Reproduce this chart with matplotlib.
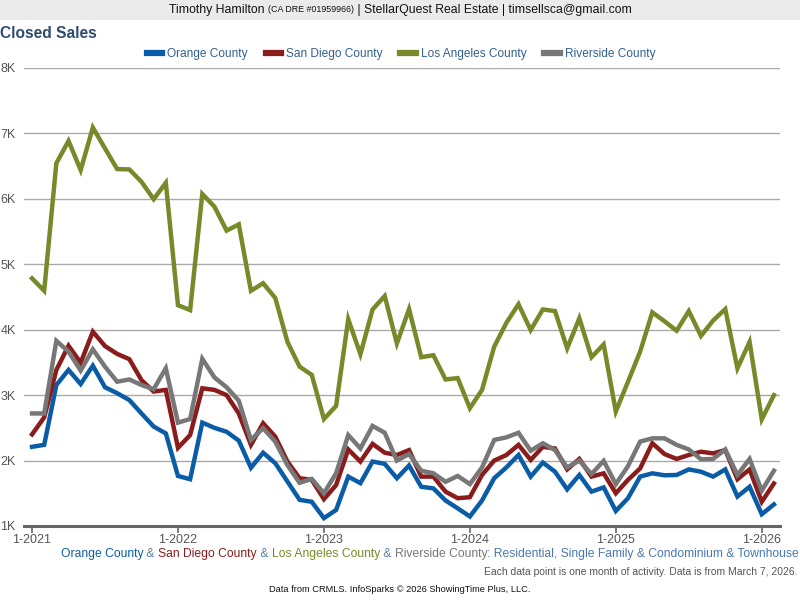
import matplotlib
matplotlib.use("Agg")
import matplotlib.pyplot as plt
from matplotlib.patches import Rectangle

plt.rcParams["font.family"] = ["Liberation Sans", "DejaVu Sans"]

# Monthly closed sales, Jan 2021 - Feb 2026
orange = [2210, 2240, 3155, 3385, 3170, 3450, 3120, 3030, 2925, 2720, 2520, 2415,
          1765, 1715, 2580, 2500, 2440, 2305, 1890, 2120, 1960, 1680, 1400, 1370,
          1120, 1245, 1755, 1655, 1985, 1950, 1730, 1925, 1600, 1575, 1390, 1270,
          1145, 1390, 1730, 1895, 2085, 1755, 1970, 1830, 1560, 1780, 1525, 1590,
          1230, 1425, 1755, 1805, 1775, 1780, 1865, 1830, 1755, 1865, 1450, 1600,
          1180, 1330]
san_diego = [2400, 2660, 3385, 3755, 3495, 3970, 3750, 3630, 3550, 3230, 3055, 3080,
             2195, 2390, 3105, 3080, 3000, 2720, 2240, 2570, 2365, 1985, 1730, 1705,
             1410, 1625, 2170, 1985, 2255, 2120, 2085, 2160, 1755, 1755, 1525, 1425,
             1440, 1780, 2000, 2085, 2240, 2010, 2210, 2185, 1865, 2025, 1755, 1805,
             1500, 1705, 1880, 2265, 2100, 2025, 2085, 2135, 2110, 2160, 1715, 1865,
             1370, 1650]
los_angeles = [4785, 4595, 6545, 6885, 6440, 7090, 6770, 6455, 6450, 6260, 5995, 6245,
               4375, 4300, 6075, 5880, 5515, 5610, 4595, 4710, 4485, 3815, 3435, 3310,
               2635, 2835, 4160, 3625, 4310, 4515, 3790, 4315, 3580, 3610, 3240, 3260,
               2800, 3080, 3740, 4105, 4390, 3995, 4310, 4285, 3715, 4175, 3580, 3775,
               2750, 3205, 3665, 4265, 4130, 3985, 4285, 3905, 4140, 4315, 3410, 3815,
               2630, 3000]
riverside = [2720, 2720, 3830, 3665, 3375, 3700, 3435, 3205, 3240, 3155, 3090, 3410,
             2580, 2635, 3555, 3270, 3120, 2915, 2315, 2495, 2290, 1930, 1660, 1720,
             1500, 1805, 2390, 2185, 2530, 2425, 2000, 2100, 1845, 1805, 1675, 1765,
             1640, 1895, 2315, 2355, 2425, 2150, 2265, 2160, 1895, 2000, 1795, 1995,
             1640, 1915, 2290, 2340, 2340, 2240, 2170, 2020, 2025, 2170, 1780, 2025,
             1540, 1845]

series_names = ["Orange County", "San Diego County", "Los Angeles County", "Riverside County"]
series_colors = ["#0b5ca6", "#8a1c1c", "#778a2a", "#777777"]
x_tick_labels = ["1-2021", "1-2022", "1-2023", "1-2024", "1-2025", "1-2026"]
y_ticks = [1000, 2000, 3000, 4000, 5000, 6000, 7000, 8000]
y_tick_labels = ["1K", "2K", "3K", "4K", "5K", "6K", "7K", "8K"]

fig = plt.figure(figsize=(8, 6), dpi=100)
ax = fig.add_axes([0.03, 1 - 526 / 600, 0.945, 458 / 600])

x = list(range(len(orange)))
for vals, name, col in zip([orange, san_diego, los_angeles, riverside], series_names, series_colors):
    ax.plot(x, vals, color=col, lw=3.2, solid_joinstyle="miter", label=name)

ax.set_xlim(-0.66, 61.5)
ax.set_ylim(1000, 8000)
ax.set_yticks(y_ticks)
ax.set_yticklabels(y_tick_labels)
ax.set_xticks([0, 12, 24, 36, 48, 60])
ax.set_xticklabels(x_tick_labels)
ax.grid(axis="y", color="#aaaaaa", lw=1)
ax.set_axisbelow(True)
for s in ["top", "right", "left"]:
    ax.spines[s].set_visible(False)
ax.spines["bottom"].set_color("#666666")
ax.spines["bottom"].set_linewidth(2.2)
ax.tick_params(axis="y", length=0, pad=6, labelsize=9, labelcolor="#555555")
ax.tick_params(axis="x", length=5, width=1.2, color="#666666", pad=0.5,
               labelsize=9, labelcolor="#555555")

# header band
fig.patches.append(Rectangle((0, 1 - 20 / 600), 1, 20 / 600, transform=fig.transFigure,
                             facecolor="#ebebeb", edgecolor="none", zorder=0))

renderer = fig.canvas.get_renderer()


def draw_pieces(pieces, y, align, xpos):
    """Draw consecutive text pieces of different styles on one line."""
    texts = []
    widths = []
    for s, col, size in pieces:
        t = fig.text(0, y, s, color=col, fontsize=size, va="center", ha="left")
        bb = t.get_window_extent(renderer)
        texts.append(t)
        widths.append(bb.width)
    total = sum(widths)
    if align == "center":
        start = xpos - total / 2
    else:
        start = xpos - total
    for t, w in zip(texts, widths):
        t.set_x(start / 800)
        start += w


draw_pieces([("Timothy Hamilton ", "#111111", 8.8),
             ("(CA DRE #01959966)", "#111111", 6.4),
             (" | StellarQuest Real Estate | timsellsca@gmail.com", "#111111", 8.8)],
            1 - 10 / 600, "center", 400)

fig.text(0.0, 1 - 34 / 600, "Closed Sales", fontsize=11.2, fontweight="bold",
         color="#2d4b6e", va="center", ha="left")

leg = fig.legend(loc="center", bbox_to_anchor=(401 / 800, 1 - 54 / 600), ncol=4, frameon=False,
                 fontsize=8.6, handlelength=1.3, handletextpad=0.4, columnspacing=1.5)
for h in leg.legend_handles:
    h.set_linewidth(4.5)
for t in leg.get_texts():
    t.set_color("#34608f")

amp = "#5a7ea6"
draw_pieces([("Orange County", series_colors[0], 8.7),
             (" & ", amp, 8.7),
             ("San Diego County", series_colors[1], 8.7),
             (" & ", amp, 8.7),
             ("Los Angeles County", series_colors[2], 8.7),
             (" & ", amp, 8.7),
             ("Riverside County", series_colors[3], 8.7),
             (": Residential, Single Family & Condominium & Townhouse", "#4a78b0", 8.7)],
            1 - 554 / 600, "right", 799)

fig.text(797 / 800, 1 - 572 / 600, "Each data point is one month of activity. Data is from March 7, 2026.",
         fontsize=7.5, color="#555555", ha="right", va="center")
fig.text(400 / 800, 1 - 590 / 600, "Data from CRMLS. InfoSparks \u00a9 2026 ShowingTime Plus, LLC.",
         fontsize=6.7, color="#111111", ha="center", va="center")

fig.savefig("out.png", dpi=100)
